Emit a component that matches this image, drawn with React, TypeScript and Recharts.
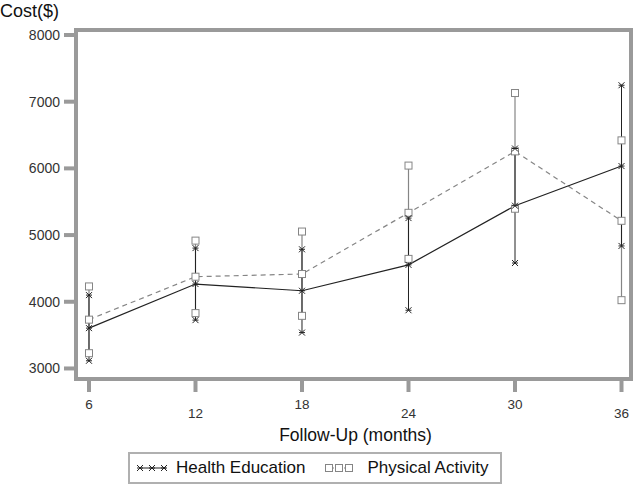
import React from 'react';
import { ComposedChart, Line, XAxis, YAxis, ErrorBar, Legend, ReferenceArea } from 'recharts';

const months = [6, 12, 18, 24, 30, 36];
const heMean = [3605, 4266, 4165, 4553, 5440, 6035];
const heLower = [3115, 3725, 3538, 3873, 4581, 4837];
const heUpper = [4100, 4805, 4787, 5255, 6298, 7247];
const paMean = [3732, 4376, 4416, 5334, 6255, 5214];
const paLower = [3229, 3830, 3789, 4643, 5395, 4024];
const paUpper = [4230, 4917, 5053, 6042, 7130, 6420];
const yTicks = [3000, 4000, 5000, 6000, 7000, 8000];
const seriesNames = ['Health Education', 'Physical Activity'];

const data = months.map((m, i) => ({
  month: m,
  heMean: heMean[i],
  heLower: heLower[i],
  heUpper: heUpper[i],
  heErr: [heMean[i] - heLower[i], heUpper[i] - heMean[i]],
  paMean: paMean[i],
  paLower: paLower[i],
  paUpper: paUpper[i],
  paErr: [paMean[i] - paLower[i], paUpper[i] - paMean[i]],
}));

const FONT = '"Liberation Sans", Arial, sans-serif';
const FRAME = '#9a9a9a';
const HE_COLOR = '#222222';
const PA_COLOR = '#858585';
const X_DOMAIN = [5.268, 36.535];
const Y_DOMAIN = [2842, 8075];
const frameLine = { stroke: FRAME, strokeWidth: 4, strokeLinecap: 'square' as const };

const Star = (props: any) => {
  const { cx, cy, stroke } = props;
  if (cx == null || cy == null) return null;
  const r = 3;
  const c = stroke && stroke !== 'none' ? stroke : HE_COLOR;
  return (
    <g>
      <line x1={cx - r} y1={cy} x2={cx + r} y2={cy} stroke={c} strokeWidth={1} />
      <line x1={cx - r} y1={cy - r} x2={cx + r} y2={cy + r} stroke={c} strokeWidth={1} />
      <line x1={cx - r} y1={cy + r} x2={cx + r} y2={cy - r} stroke={c} strokeWidth={1} />
    </g>
  );
};

const Square = (props: any) => {
  const { cx, cy } = props;
  if (cx == null || cy == null) return null;
  const r = 3.5;
  return <rect x={cx - r} y={cy - r} width={2 * r} height={2 * r} fill="#fff" stroke={PA_COLOR} strokeWidth={1} />;
};

const XTick = (props: any) => {
  const { x, y, payload, index } = props;
  const off = index % 2 === 0 ? 15 : 24;
  return (
    <text x={x} y={y + off} textAnchor="middle" fontFamily={FONT} fontSize={13.5} fill="#333">
      {payload.value}
    </text>
  );
};

const LegendContent = () => (
  <div
    style={{
      border: '2px solid #b0b0b0',
      height: 28,
      width: 370,
      display: 'flex',
      alignItems: 'center',
      fontFamily: FONT,
      fontSize: 17,
      color: '#111',
      whiteSpace: 'nowrap',
      overflow: 'visible',
      boxSizing: 'content-box',
    }}
  >
    <svg width={31} height={12} style={{ marginLeft: 7, flexShrink: 0 }}>
      <line x1={2} y1={6} x2={29} y2={6} stroke={HE_COLOR} strokeWidth={1} />
      <Star cx={3} cy={6} />
      <Star cx={15} cy={6} />
      <Star cx={27} cy={6} />
    </svg>
    <span style={{ marginLeft: 8, flexShrink: 0 }}>{seriesNames[0]}</span>
    <svg width={28} height={12} style={{ marginLeft: 20, flexShrink: 0 }}>
      <line x1={3} y1={6} x2={24} y2={6} stroke={PA_COLOR} strokeWidth={1} strokeDasharray="2 2" />
      <Square cx={4} cy={6} />
      <Square cx={14} cy={6} />
      <Square cx={24} cy={6} />
    </svg>
    <span style={{ marginLeft: 14, flexShrink: 0 }}>{seriesNames[1]}</span>
  </div>
);

export default function App() {
  return (
    <div style={{ position: 'absolute', left: 0, top: 0 }}>
      <ComposedChart width={640} height={485} data={data} margin={{ top: 30, right: 9, bottom: 1, left: 0 }}>
        <XAxis
          dataKey="month"
          type="number"
          domain={X_DOMAIN}
          ticks={months}
          allowDataOverflow
          axisLine={frameLine}
          tickSize={13}
          tickLine={{ stroke: FRAME, strokeWidth: 4 }}
          tick={<XTick />}
          height={73}
          label={(p: any) => {
            const vb = p.viewBox || {};
            const cx = vb.width ? vb.x + vb.width / 2 : 354;
            return (
              <text x={cx + 2} y={(vb.y || 378) + 62} textAnchor="middle" fontFamily={FONT} fontSize={17.5} fill="#111">
                Follow-Up (months)
              </text>
            );
          }}
        />
        <YAxis
          type="number"
          domain={Y_DOMAIN}
          ticks={yTicks}
          allowDataOverflow
          width={76}
          axisLine={frameLine}
          tickSize={12}
          tickMargin={4}
          tickLine={{ stroke: FRAME, strokeWidth: 4 }}
          tick={{ fontFamily: FONT, fontSize: 14, fill: '#333' }}
          label={(p: any) => (
            <text x={0} y={17} textAnchor="start" fontFamily={FONT} fontSize={18} fill="#111">
              Cost($)
            </text>
          )}
        />
        <ReferenceArea
          x1={X_DOMAIN[0]}
          x2={X_DOMAIN[1]}
          y1={Y_DOMAIN[0]}
          y2={Y_DOMAIN[1]}
          fill="none"
          fillOpacity={0}
          stroke={FRAME}
          strokeWidth={4}
          ifOverflow="visible"
        />
        <Line dataKey="paUpper" stroke="none" dot={<Square />} activeDot={false} isAnimationActive={false} legendType="none" />
        <Line dataKey="paLower" stroke="none" dot={<Square />} activeDot={false} isAnimationActive={false} legendType="none" />
        <Line
          dataKey="paMean"
          stroke={PA_COLOR}
          strokeWidth={1.2}
          strokeDasharray="5 4"
          dot={<Square />}
          activeDot={false}
          isAnimationActive={false}
        >
          <ErrorBar dataKey="paErr" width={0} stroke={PA_COLOR} strokeWidth={1.2} isAnimationActive={false} />
        </Line>
        <Line
          dataKey="heMean"
          stroke={HE_COLOR}
          strokeWidth={1.2}
          dot={<Star />}
          activeDot={false}
          isAnimationActive={false}
        >
          <ErrorBar dataKey="heErr" width={0} stroke={HE_COLOR} strokeWidth={1} isAnimationActive={false} />
        </Line>
        <Line dataKey="heUpper" stroke="none" dot={<Star />} activeDot={false} isAnimationActive={false} legendType="none" />
        <Line dataKey="heLower" stroke="none" dot={<Star />} activeDot={false} isAnimationActive={false} legendType="none" />
        <Legend
          verticalAlign="bottom"
          content={<LegendContent />}
          wrapperStyle={{ left: 128, width: 374, bottom: 1 }}
        />
      </ComposedChart>
    </div>
  );
}
